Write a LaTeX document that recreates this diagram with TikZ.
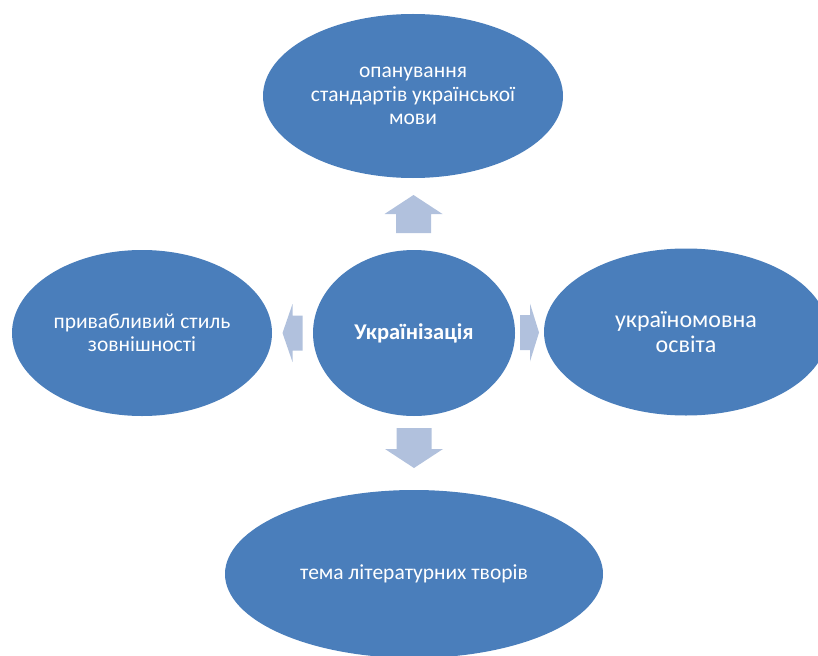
\documentclass[tikz,border=0pt]{standalone}
\usepackage{fontspec}
\setmainfont{Carlito}
\usetikzlibrary{shapes.geometric,calc}
\definecolor{ovalblue}{HTML}{4A7EBB}
\definecolor{arrowblue}{HTML}{B1C1DD}
% block arrow pointing right, centred on the pic origin: #1 length, #2 head length
\tikzset{pics/blockarrow/.style 2 args={code={
  \fill[arrowblue] (-#1/2,-17.5) -- (#1/2-#2,-17.5) -- (#1/2-#2,-29) -- (#1/2,0)
    -- (#1/2-#2,29) -- (#1/2-#2,17.5) -- (-#1/2,17.5) -- cycle;}}}

\begin{document}
\begin{tikzpicture}[x=1pt, y=-1pt,
  oval/.style={ellipse, fill=ovalblue, inner sep=0pt, text=white, align=center, font=\fontsize{21.5}{23.5}\selectfont}]
\useasboundingbox (0,0) rectangle (818,655);
% centre
\node[oval, minimum width=202pt, minimum height=166pt, font=\fontsize{22.5}{24}\selectfont\bfseries] (ukr) at (414,333) {Українізація};
% ovals round it
\node[oval, minimum width=300pt, minimum height=164pt] (mova) at (413,96) {опанування\\стандартів української\\мови};
\node[oval, minimum width=260pt, minimum height=166pt] (styl) at (142,333) {привабливий стиль\\зовнішності};
\node[oval, minimum width=284pt, minimum height=167pt, font=\fontsize{24}{25}\selectfont] (osvita) at (686,332) {україномовна\\освіта};
\node[oval, minimum width=378pt, minimum height=168pt] (tema) at (414,574) {тема літературних творів};
% block arrows between them
\pic[rotate=90] (toMova) at ($(ukr.north)!0.5!(mova.south)$) {blockarrow={38}{19}};
\pic[rotate=-90] (toTema) at ($(ukr.south)!0.5!(tema.north)+(0,-5)$) {blockarrow={40}{19}};
\pic[rotate=180] (toStyl) at ($(ukr.west)!0.5!(styl.east)$) {blockarrow={20}{10}};
\pic (toOsvita) at ($(ukr.east)!0.5!(osvita.west)$) {blockarrow={19}{9}};
\end{tikzpicture}
\end{document}
